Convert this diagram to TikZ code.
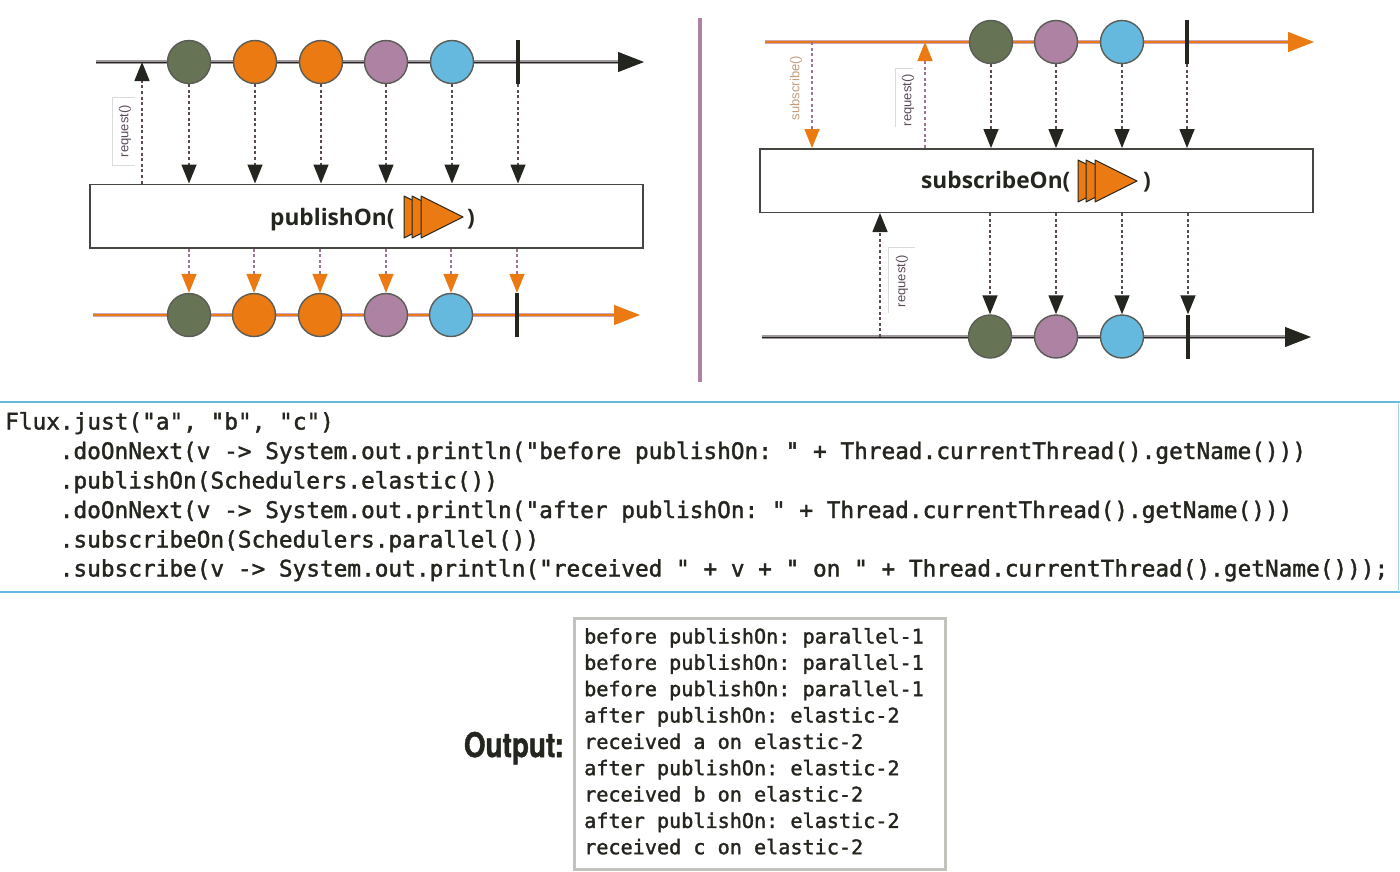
\documentclass[tikz,border=0pt]{standalone}
\usepackage{fontspec}
\usetikzlibrary{arrows.meta}
\newfontfamily\codefont{DejaVu Sans Mono}[FakeBold=1.6]
\newfontfamily\boxfont{Open Sans}
\newfontfamily\labfont{Liberation Sans}
\newfontfamily\outfont{TeX Gyre Heros}[BoldFeatures={FakeBold=1.5}]
\definecolor{cgreen}{HTML}{667355}
\definecolor{corange}{HTML}{EB7A12}
\definecolor{cpurple}{HTML}{AE82A2}
\definecolor{cblue}{HTML}{65B9DE}
\definecolor{cdark}{HTML}{23261E}
\definecolor{cline}{HTML}{8A8088}
\definecolor{cdash}{HTML}{5A4A58}
\tikzset{
  marble/.style={circle,draw=cdark!75,line width=1.4pt,minimum size=43pt,inner sep=0pt},
  endbar/.style={rectangle,fill=cdark,inner sep=0pt,minimum width=3.6pt,minimum height=44pt},
  opbox/.style={rectangle,draw=cdark!85,line width=1.5pt,fill=white,minimum width=553pt,minimum height=63.5pt,inner sep=0pt},
  opname/.style={font=\boxfont\bfseries\fontsize{22.7}{26}\selectfont,text=cdark,inner sep=0pt,anchor=base west},
  dashblack/.style={draw=cdash,line width=1.5pt,dash pattern=on 3pt off 2.6pt,-{Triangle[length=19pt,width=15pt,color=cdark,fill=cdark]}},
  dashorange/.style={draw=cpurple!90!black,line width=1.5pt,dash pattern=on 3pt off 2.6pt,-{Triangle[length=19pt,width=15pt,color=corange,fill=corange]}},
  axisblack/.style={draw=cdark,line width=1pt,preaction={draw=cline!80,line width=3.2pt,-,shorten >=12pt},-{Triangle[length=26pt,width=20pt,color=cdark,fill=cdark]}},
  axisorange/.style={draw=corange,line width=1.2pt,preaction={draw=cpurple!70,line width=3.4pt,-,shorten >=12pt},-{Triangle[length=26pt,width=20pt,color=corange,fill=corange]}},
  vlabel/.style={rotate=90,inner sep=0pt,font=\labfont\fontsize{13}{15}\selectfont,text=#1},
  faintrule/.style={draw=black!14,line width=1pt},
  playtri/.style={fill=corange,draw=cdark,line width=1pt,line join=round},
  codeline/.style={anchor=base west,inner sep=0pt,font=\codefont\fontsize{22.75}{26}\selectfont,text=cdark},
  outline/.style={anchor=base west,inner sep=0pt,font=\codefont\fontsize{20.15}{24}\selectfont,text=cdark},
}
\newcommand{\playicon}[2]{%
  \path[playtri] (#1,#2-21) -- (#1+42,#2) -- (#1,#2+21) -- cycle;
  \path[playtri] (#1+8,#2-21) -- (#1+50,#2) -- (#1+8,#2+21) -- cycle;
  \path[playtri] (#1+17,#2-21) -- (#1+59,#2) -- (#1+17,#2+21) -- cycle;
}
\begin{document}\frenchspacing
\begin{tikzpicture}[x=1pt,y=-1pt]
\useasboundingbox (0,0) rectangle (1400,871);
\fill[white] (0,0) rectangle (1400,871);

% ---------- left diagram: publishOn
\coordinate (lta) at (96,62);  \coordinate (ltb) at (644,62);
\coordinate (lba) at (93,315); \coordinate (lbb) at (640,315);
\draw[axisblack] (lta) -- (ltb);
\draw[axisorange] (lba) -- (lbb);
\node[opbox] (pbox) at (366.5,216) {};
\foreach \n/\x/\c in {1/189/cgreen,2/255/corange,3/321/corange,4/386/cpurple,5/452/cblue}{
  \node[marble,fill=\c] (lt\n) at (\x,62) {};
}
\node[endbar] (lt6) at (518,62) {};
\foreach \n/\x/\c in {1/189/cgreen,2/254/corange,3/320/corange,4/386/cpurple,5/451/cblue}{
  \node[marble,fill=\c] (lb\n) at (\x,315) {};
}
\node[endbar] (lb6) at (517,315) {};
\foreach \n in {1,...,6}{
  \draw[dashblack] (lt\n.south) -- (lt\n.south |- pbox.north);
  \draw[dashorange] (lb\n.north |- pbox.south) -- (lb\n.north);
}
\coordinate (lreq) at (142,62);
\draw[dashblack] (lreq |- pbox.north) -- (lreq);
\node[vlabel=cdash] (lreqlab) at (125,131) {request()};
\draw[faintrule] (112,97) -- (135,97) (112,165) -- (135,165) (112,97) -- (112,165);
\node[opname] (pname) at (270,225) {publishOn(};
\playicon{404}{217}
\node[opname] (pclose) at (467,225) {)};

% ---------- separator
\coordinate (sepa) at (700,18); \coordinate (sepb) at (700,382);
\draw[draw=cpurple,line width=3.4pt] (sepa) -- (sepb);

% ---------- right diagram: subscribeOn
\coordinate (rta) at (765,42);  \coordinate (rtb) at (1314,42);
\coordinate (rba) at (762,337); \coordinate (rbb) at (1311,337);
\draw[axisorange] (rta) -- (rtb);
\draw[axisblack] (rba) -- (rbb);
\node[opbox] (sbox) at (1036.5,180.5) {};
\foreach \n/\x/\c in {1/991/cgreen,2/1056/cpurple,3/1122/cblue}{
  \node[marble,fill=\c] (rt\n) at (\x,42) {};
}
\node[endbar] (rt4) at (1187,42) {};
\foreach \n/\x/\c in {1/990/cgreen,2/1056/cpurple,3/1122/cblue}{
  \node[marble,fill=\c] (rb\n) at (\x,336.5) {};
}
\node[endbar] (rb4) at (1188,336.5) {};
\foreach \n in {1,...,4}{
  \draw[dashblack] (rt\n.south) -- (rt\n.south |- sbox.north);
  \draw[dashblack] (rb\n.north |- sbox.south) -- (rb\n.north);
}
\coordinate (rsub) at (812,42);
\coordinate (rreqa) at (925,42);
\coordinate (rreqb) at (880,337);
\draw[dashorange] (rsub) -- (rsub |- sbox.north);
\draw[dashorange] (rreqa |- sbox.north) -- (rreqa);
\draw[dashblack] (rreqb) -- (rreqb |- sbox.south);
\node[vlabel=black!38!corange!55!white] (rsublab) at (796,88) {subscribe()};
\node[vlabel=cdash] (rreqlab) at (908,100) {request()};
\node[vlabel=cdash] (rreqlab2) at (902,281) {request()};
\draw[faintrule] (913,68) -- (895,68) -- (895,127);
\draw[faintrule] (915,247) -- (888,247) -- (888,313);
\node[opname] (sname) at (921,188) {subscribeOn(};
\playicon{1078}{181}
\node[opname] (sclose) at (1143,188) {)};

% ---------- code block
\draw[draw=cblue,line width=2.6pt] (0,402) -- (1400,402);
\draw[draw=cblue,line width=2.6pt] (0,592) -- (1400,592);
\draw[draw=cblue!60,line width=1.4pt] (1398.5,402) -- (1398.5,592);
\node[codeline] (c1) at (5,429.5) {Flux.just("a", "b", "c")};
\node[codeline] (c2) at (59.6,459) {.doOnNext(v -> System.out.println("before publishOn: " + Thread.currentThread().getName()))};
\node[codeline] (c3) at (59.6,488.5) {.publishOn(Schedulers.elastic())};
\node[codeline] (c4) at (59.6,518) {.doOnNext(v -> System.out.println("after publishOn: " + Thread.currentThread().getName()))};
\node[codeline] (c5) at (59.6,547.5) {.subscribeOn(Schedulers.parallel())};
\node[codeline] (c6) at (59.6,576.5) {.subscribe(v -> System.out.println("received " + v + " on " + Thread.currentThread().getName()));};

% ---------- output
\node[draw=black!25!cgreen!35!white,line width=3pt,fill=white,minimum width=371pt,minimum height=251pt,inner sep=0pt] (obox) at (759.5,743.5) {};
\node[anchor=base east,inner sep=0pt,font=\outfont\bfseries\fontsize{34}{38}\selectfont,text=cdark,xscale=.82] (olab) at (564,757) {Output:};
\node[outline] (o1) at (584,643.5) {before publishOn: parallel-1};
\node[outline] (o2) at (584,669.8) {before publishOn: parallel-1};
\node[outline] (o3) at (584,696.1) {before publishOn: parallel-1};
\node[outline] (o4) at (584,722.5) {after publishOn: elastic-2};
\node[outline] (o5) at (584,748.9) {received a on elastic-2};
\node[outline] (o6) at (584,775.2) {after publishOn: elastic-2};
\node[outline] (o7) at (584,801.5) {received b on elastic-2};
\node[outline] (o8) at (584,827.9) {after publishOn: elastic-2};
\node[outline] (o9) at (584,854.2) {received c on elastic-2};
\end{tikzpicture}
\end{document}
